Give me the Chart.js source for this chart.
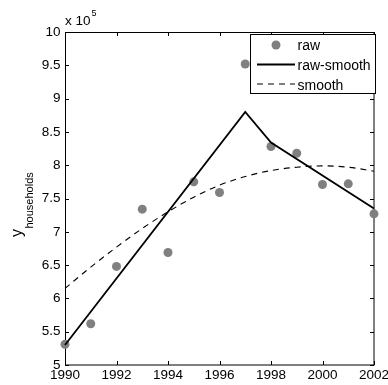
<!DOCTYPE html>
<html><head><meta charset="utf-8">
<script src="https://cdn.jsdelivr.net/npm/chart.js@4/dist/chart.umd.min.js"></script>
<style>html,body{margin:0;padding:0;background:#fff;overflow:hidden}</style>
</head><body>
<canvas id="c" width="388" height="385"></canvas>
<script>
// ---- data (values in units of 10^5 households) ----
const years = [1990,1991,1992,1993,1994,1995,1996,1997,1998,1999,2000,2001,2002];
const rawValues = [5.31,5.62,6.48,7.34,6.69,7.75,7.59,9.52,8.28,8.18,7.71,7.72,7.27];
const rawSmoothYears = [1990,1997,1998,2002];
const rawSmoothValues = [5.30,8.80,8.34,7.35];
const smoothValues = [6.15,6.47,6.77,7.05,7.30,7.52,7.70,7.83,7.92,7.97,7.99,7.97,7.91];
const seriesNames = ['raw','raw-smooth','smooth'];
const xTicks = [1990,1992,1994,1996,1998,2000,2002];
const yTicks = [5,5.5,6,6.5,7,7.5,8,8.5,9,9.5,10];
const yExponent = '5';
const yTitle = 'y';
const yTitleSub = 'households';

const FONT = '"Liberation Sans", Arial, Helvetica, sans-serif';

const frame = {
  id: 'frame',
  beforeDatasetsDraw(chart) {
    const {ctx, chartArea: a, scales} = chart;
    ctx.save();
    ctx.strokeStyle = '#000';
    ctx.lineWidth = 1;
    ctx.strokeRect(Math.round(a.left) + 0.5, Math.round(a.top) + 0.5,
                   Math.round(a.right) - Math.round(a.left) - 1 + 0.5, Math.round(a.bottom) - Math.round(a.top) - 0.5);
    const tl = 4;
    ctx.beginPath();
    scales.x.ticks.forEach(t => {
      const x = Math.round(scales.x.getPixelForValue(t.value)) + 0.5;
      ctx.moveTo(x, a.bottom); ctx.lineTo(x, a.bottom - tl);
      ctx.moveTo(x, a.top); ctx.lineTo(x, a.top + tl);
    });
    scales.y.ticks.forEach(t => {
      const y = Math.round(scales.y.getPixelForValue(t.value)) + 0.5;
      ctx.moveTo(a.left, y); ctx.lineTo(a.left + tl, y);
      ctx.moveTo(a.right, y); ctx.lineTo(a.right - tl, y);
    });
    ctx.stroke();
    ctx.restore();
  },
  afterDraw(chart) {
    const {ctx, chartArea: a} = chart;
    ctx.save();
    ctx.fillStyle = '#000';
    // exponent label
    ctx.textBaseline = 'alphabetic';
    ctx.textAlign = 'left';
    ctx.font = '13.5px ' + FONT;
    ctx.fillText('x 10', a.left, 25);
    const w = ctx.measureText('x 10').width;
    ctx.font = '9px ' + FONT;
    ctx.fillText(yExponent, a.left + w + 1, 16);
    // y title
    ctx.save();
    ctx.translate(0, 237);
    ctx.rotate(-Math.PI / 2);
    ctx.font = '16px ' + FONT;
    ctx.fillText(yTitle, 0, 22);
    const wy = ctx.measureText(yTitle).width;
    ctx.font = '11px ' + FONT;
    ctx.fillText(yTitleSub, wy + 0.5, 33);
    ctx.restore();
    // legend
    const L = 250, T = 34, R = 376, B = 94;
    ctx.fillStyle = '#fff';
    ctx.fillRect(L, T, R - L, B - T);
    ctx.strokeStyle = '#000';
    ctx.lineWidth = 1;
    ctx.strokeRect(L + 0.5, T + 0.5, R - L - 1, B - T - 1);
    const ds = chart.data.datasets;
    const rows = [45, 64.5, 84];
    const bases = [50, 70, 89.5];
    // raw marker
    ctx.fillStyle = ds[0].backgroundColor;
    ctx.beginPath(); ctx.arc(276, rows[0], ds[0].pointRadius, 0, Math.PI * 2); ctx.fill();
    // raw-smooth line
    ctx.strokeStyle = ds[1].borderColor; ctx.lineWidth = ds[1].borderWidth;
    ctx.beginPath(); ctx.moveTo(257, rows[1]); ctx.lineTo(295, rows[1]); ctx.stroke();
    // smooth dashed
    ctx.strokeStyle = ds[2].borderColor; ctx.lineWidth = ds[2].borderWidth;
    ctx.setLineDash(ds[2].borderDash);
    ctx.beginPath(); ctx.moveTo(257, rows[2]); ctx.lineTo(295, rows[2]); ctx.stroke();
    ctx.setLineDash([]);
    ctx.fillStyle = '#000';
    ctx.font = '14px ' + FONT;
    ctx.textAlign = 'left';
    seriesNames.forEach((n, i) => ctx.fillText(n, 297.5, bases[i]));
    ctx.restore();
  }
};

new Chart(document.getElementById('c'), {
  type: 'scatter',
  data: {
    datasets: [
      {
        label: seriesNames[0],
        data: years.map((y, i) => ({x: y, y: rawValues[i]})),
        backgroundColor: '#808080',
        borderWidth: 0,
        pointRadius: 4.5,
        pointHoverRadius: 4.5,
        showLine: false,
        clip: false,
        order: 3
      },
      {
        label: seriesNames[1],
        data: rawSmoothYears.map((y, i) => ({x: y, y: rawSmoothValues[i]})),
        borderColor: '#000',
        borderWidth: 1.8,
        pointRadius: 0,
        showLine: true,
        tension: 0,
        clip: false,
        order: 1
      },
      {
        label: seriesNames[2],
        data: years.map((y, i) => ({x: y, y: smoothValues[i]})),
        borderColor: '#000',
        borderWidth: 1.1,
        borderDash: [6, 5],
        pointRadius: 0,
        showLine: true,
        cubicInterpolationMode: 'monotone',
        clip: false,
        order: 2
      }
    ]
  },
  options: {
    responsive: false,
    animation: false,
    devicePixelRatio: 1,
    layout: {padding: {left: 0, right: 14, top: 32, bottom: 0}},
    plugins: {legend: {display: false}, tooltip: {enabled: false}},
    scales: {
      x: {
        type: 'linear', min: 1990, max: 2002,
        grid: {display: false, drawTicks: false},
        border: {display: false},
        afterBuildTicks: s => { s.ticks = xTicks.map(v => ({value: v})); },
        afterFit: s => { s.height = 20; s.paddingLeft = 0; s.paddingRight = 0; },
        ticks: {
          color: '#000', padding: 2, maxRotation: 0, autoSkip: false,
          font: {family: FONT, size: 13.5},
          callback: v => String(v)
        }
      },
      y: {
        type: 'linear', min: 5, max: 10,
        grid: {display: false, drawTicks: false},
        border: {display: false},
        afterBuildTicks: s => { s.ticks = yTicks.map(v => ({value: v})); },
        afterFit: s => { s.width = 65; s.paddingTop = 0; s.paddingBottom = 0; },
        ticks: {
          color: '#000', padding: 4.5, autoSkip: false,
          font: {family: FONT, size: 13.5},
          callback: v => String(v)
        }
      }
    }
  },
  plugins: [frame]
});
</script>
</body></html>
